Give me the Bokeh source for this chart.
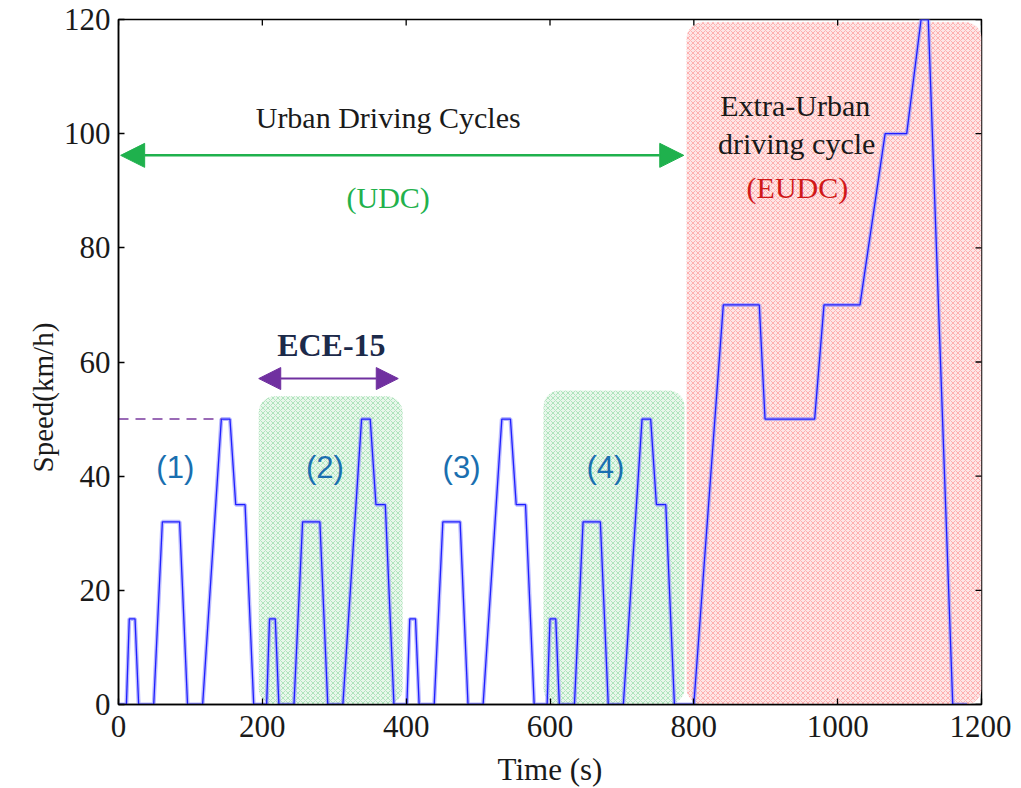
import math
from bokeh.plotting import figure
from bokeh.models import (BoxAnnotation, Arrow, NormalHead, Label, Title,
                          FixedTicker, Range1d)
from bokeh.embed import file_html
from bokeh.resources import INLINE

# ---------------- data ----------------
# NEDC speed profile: 4 x ECE-15 (UDC) + EUDC
time_s = [0, 11, 15, 23, 28, 49, 61, 85, 96, 117, 143, 155, 163, 176, 188, 195,
          206, 210, 218, 223, 244, 256, 280, 291, 312, 338, 350, 358, 371, 383, 390,
          401, 405, 413, 418, 439, 451, 475, 486, 507, 533, 545, 553, 566, 578, 585,
          596, 600, 608, 613, 634, 646, 670, 681, 702, 728, 740, 748, 761, 773, 780,
          800, 841, 891, 899, 968, 981, 1031, 1066, 1096, 1116, 1126, 1160, 1180]
speed_kmh = [0, 0, 15, 15, 0, 0, 32, 32, 0, 0, 50, 50, 35, 35, 0, 0,
             0, 15, 15, 0, 0, 32, 32, 0, 0, 50, 50, 35, 35, 0, 0,
             0, 15, 15, 0, 0, 32, 32, 0, 0, 50, 50, 35, 35, 0, 0,
             0, 15, 15, 0, 0, 32, 32, 0, 0, 50, 50, 35, 35, 0, 0,
             0, 70, 70, 50, 50, 70, 70, 100, 100, 120, 120, 0, 0]

ref_t = [0, 143]
ref_v = [50, 50]

x_ticks = [0, 200, 400, 600, 800, 1000, 1200]
y_ticks = [0, 20, 40, 60, 80, 100, 120]

cycle_labels = ["(1)", "(2)", "(3)", "(4)"]
cycle_label_t = [79, 287, 477, 677]

# ---------------- figure ----------------
SERIF = "Liberation Serif"
SANS = "Liberation Sans"

p = figure(frame_width=863, frame_height=685,
           x_range=Range1d(0, 1200), y_range=Range1d(0, 120),
           output_backend="svg", toolbar_location=None,
           min_border_left=118, min_border_top=19,
           min_border_right=30, min_border_bottom=80,
           background_fill_color="white", border_fill_color="white")
p.grid.visible = False
p.outline_line_color = "black"
p.outline_line_width = 1.5

for ax in [p.xaxis[0], p.yaxis[0]]:
    ax.major_tick_in = 6
    ax.major_tick_out = 0
    ax.minor_tick_in = 0
    ax.minor_tick_out = 0
    ax.axis_line_color = "black"
    ax.axis_line_width = 1.5
    ax.major_tick_line_width = 1.3
    ax.major_label_text_font = SERIF
    ax.major_label_text_font_size = "31px"
    ax.major_label_text_color = "#1a1a1a"
    ax.axis_label_text_font = SERIF
    ax.axis_label_text_font_style = "normal"
    ax.axis_label_text_color = "#1a1a1a"

p.xaxis.ticker = FixedTicker(ticks=x_ticks)
p.yaxis.ticker = FixedTicker(ticks=y_ticks)
p.xaxis.axis_label = "Time (s)"
p.xaxis.axis_label_text_font_size = "31px"
p.xaxis.major_label_standoff = 11
p.yaxis.major_label_standoff = 8
p.xaxis.axis_label_standoff = 12

# y axis title as a side title, shifted slightly below frame centre
p.add_layout(Title(text="Speed(km/h)", align="left", offset=232, standoff=4,
                   text_font=SERIF, text_font_size="29px", text_font_style="normal",
                   text_color="#1a1a1a"), "left")

# mirrored inward ticks on top and right edges
p.scatter(x=x_ticks, y=[y_ticks[-1]] * len(x_ticks), marker="dash", angle=math.pi / 2,
          size=12, line_color="black", line_width=1.3)
p.scatter(x=[x_ticks[-1]] * len(y_ticks), y=y_ticks, marker="dash",
          size=12, line_color="black", line_width=1.3)

# ---------------- shaded regions ----------------
green_kw = dict(fill_color="#e8f7eb", fill_alpha=1.0, line_color=None,
                hatch_pattern="diagonal_cross", hatch_color="#36b85a",
                hatch_alpha=0.45, hatch_scale=5, hatch_weight=0.7,
                border_radius=16, level="underlay")
p.add_layout(BoxAnnotation(left=195, right=395, bottom=0, top=54, **green_kw))
p.add_layout(BoxAnnotation(left=591, right=787, bottom=0, top=55, **green_kw))
p.add_layout(BoxAnnotation(left=790, right=1200, bottom=0, top=119.5,
                           fill_color="#fde6e6", fill_alpha=1.0, line_color=None,
                           hatch_pattern="diagonal_cross", hatch_color="#ff4a4a",
                           hatch_alpha=0.5, hatch_scale=5, hatch_weight=0.7,
                           border_radius=16, level="underlay"))

# ---------------- speed trace ----------------
p.line(time_s, speed_kmh, line_color="#8c8cff", line_width=4, line_alpha=0.6)
p.line(time_s, speed_kmh, line_color="#1f1fff", line_width=1.3)

# dashed 50 km/h reference
p.line(ref_t, ref_v, line_color="#7a3a9e", line_width=1.5, line_dash="10 7")
p.add_layout(Label(x=0, y=50, x_offset=-9, text="50", text_align="right",
                   text_baseline="middle", text_font=SERIF, text_font_size="31px",
                   text_color="#2a2a7c"))

# ---------------- arrows ----------------
p.add_layout(Arrow(start=NormalHead(size=24, fill_color="#1fb14d", line_color="#1fb14d"),
                   end=NormalHead(size=24, fill_color="#1fb14d", line_color="#1fb14d"),
                   x_start=3, y_start=96.2, x_end=786, y_end=96.2,
                   line_color="#1fb14d", line_width=2.5))
p.add_layout(Arrow(start=NormalHead(size=22, fill_color="#7030a0", line_color="#7030a0"),
                   end=NormalHead(size=22, fill_color="#7030a0", line_color="#7030a0"),
                   x_start=195, y_start=57.1, x_end=389, y_end=57.1,
                   line_color="#7030a0", line_width=2))

# ---------------- texts ----------------
def txt(x, y, s, color, font=SERIF, size="30px", style="normal"):
    p.add_layout(Label(x=x, y=y, text=s, text_align="center", text_baseline="middle",
                       text_font=font, text_font_size=size, text_color=color,
                       text_font_style=style))

txt(375, 102.8, "Urban Driving Cycles", "#1a1a1a")
txt(375, 88.8, "(UDC)", "#22b14c")
txt(296, 62.9, "ECE-15", "#1c2a4a", size="32px", style="bold")
txt(941, 104.9, "Extra-Urban", "#1a1a1a")
txt(943, 98.3, "driving cycle", "#1a1a1a")
txt(944, 90.6, "(EUDC)", "#d01818")
for s, t in zip(cycle_labels, cycle_label_t):
    txt(t, 41.6, s, "#1a6fb0", font=SANS, size="31px")

open("out.html", "w").write(file_html(p, INLINE))
